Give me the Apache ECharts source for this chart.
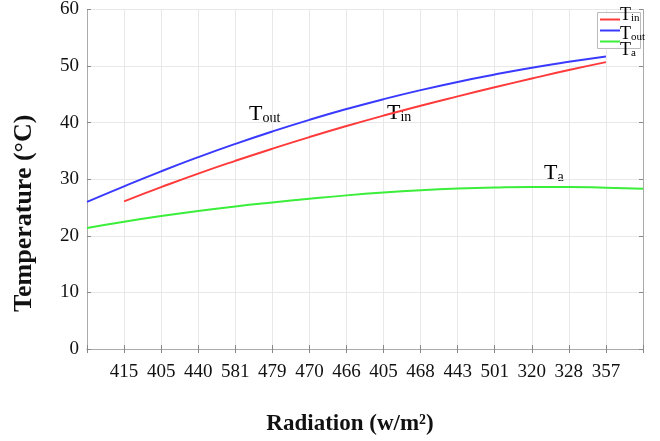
<!DOCTYPE html>
<html>
<head>
<meta charset="utf-8">
<script src="https://cdn.jsdelivr.net/npm/echarts@6/dist/echarts.min.js"></script>
<style>html,body{margin:0;padding:0;background:#fff}#c{width:660px;height:441px}</style>
</head>
<body>
<div id="c"></div>
<script>
const radiation = ['', '415','405','440','581','479','470','466','405','468','443','501','320','328','357',''];
const tIn  = [null, 26.1, 28.6, 31.0, 33.25, 35.4, 37.45, 39.4, 41.25, 43.0, 44.65, 46.25, 47.8, 49.3, 50.7, null];
const tOut = [26.0, 28.75, 31.4, 33.9, 36.25, 38.45, 40.5, 42.4, 44.15, 45.75, 47.2, 48.5, 49.7, 50.75, 51.7, null];
const tA   = [21.4, 22.5, 23.5, 24.4, 25.2, 25.9, 26.55, 27.15, 27.65, 28.05, 28.35, 28.55, 28.65, 28.65, 28.5, 28.3];
const seriesNames = ['Tin', 'Tout', 'Ta'];
const yTicks = {min: 0, max: 60, interval: 10};

const serif = '"Liberation Serif", "DejaVu Serif", serif';
const chart = echarts.init(document.getElementById('c'), null, {renderer: 'canvas'});
const subLeg = {
  t: {fontFamily: serif, fontSize: 18, color: '#111', verticalAlign: 'bottom'},
  s: {fontFamily: serif, fontSize: 11, color: '#111', verticalAlign: 'bottom', padding: [6, 0, 0, 0]}
};
const subBig = {
  t: {fontFamily: serif, fontSize: 22, color: '#111', verticalAlign: 'bottom'},
  s: {fontFamily: serif, fontSize: 14, color: '#111', verticalAlign: 'bottom', padding: [8, 0, 0, 0]}
};
const subText = n => '{t|T}{s|' + n.slice(1) + '}';
chart.setOption({
  animation: false,
  backgroundColor: '#fff',
  grid: {left: 87, right: 17, top: 6, bottom: 85},
  legend: {
    orient: 'vertical', left: 598, top: 14,
    itemWidth: 20, itemHeight: 2, itemGap: 0,
    padding: [0, 0, 0, 2],
    borderWidth: 0, backgroundColor: 'transparent',
    icon: 'rect', z: 5,
    formatter: () => ' ',
    textStyle: {fontSize: 11, lineHeight: 11, padding: 0},
    data: seriesNames
  },
  xAxis: [{
    type: 'category', data: radiation, boundaryGap: false,
    axisLine: {lineStyle: {color: '#aaa'}},
    axisTick: {inside: true, length: 4, lineStyle: {color: '#888'}},
    axisLabel: {fontFamily: serif, fontSize: 19, color: '#111', margin: 14, interval: 0},
    splitLine: {show: true, lineStyle: {color: '#e8e8e8'}},
    name: 'Radiation (w/m\u00B2)', nameLocation: 'middle', nameGap: 64,
    nameTextStyle: {fontFamily: serif, fontSize: 23, fontWeight: 'bold', color: '#111', padding: [0, 30, 0, 0]}
  }, {
    type: 'category', data: radiation, boundaryGap: false, position: 'top',
    axisLine: {lineStyle: {color: '#aaa'}},
    axisTick: {inside: true, length: 4, lineStyle: {color: '#888'}},
    axisLabel: {show: false}
  }],
  yAxis: [{
    type: 'value', min: yTicks.min, max: yTicks.max, interval: yTicks.interval,
    axisLine: {show: true, lineStyle: {color: '#aaa'}},
    axisTick: {show: true, inside: true, length: 4, lineStyle: {color: '#888'}},
    axisLabel: {fontFamily: serif, fontSize: 19, color: '#111', margin: 8},
    splitLine: {show: true, lineStyle: {color: '#e8e8e8'}},
    name: 'Temperature (\u00B0C)', nameLocation: 'middle', nameGap: 50, nameRotate: 90,
    nameTextStyle: {fontFamily: serif, fontSize: 26, fontWeight: 'bold', color: '#111', padding: [0, 68, 0, 0]}
  }, {
    type: 'value', min: yTicks.min, max: yTicks.max, interval: yTicks.interval, position: 'right',
    axisLine: {show: true, lineStyle: {color: '#aaa'}},
    axisTick: {show: true, inside: true, length: 4, lineStyle: {color: '#888'}},
    axisLabel: {show: false}, splitLine: {show: false}
  }],
  series: [
    {name: seriesNames[0], type: 'line', data: tIn, smooth: true, showSymbol: false,
     lineStyle: {color: '#ff3a3a', width: 2}, itemStyle: {color: '#ff3a3a'}},
    {name: seriesNames[1], type: 'line', data: tOut, smooth: true, showSymbol: false,
     lineStyle: {color: '#3a3aff', width: 2}, itemStyle: {color: '#3a3aff'}},
    {name: seriesNames[2], type: 'line', data: tA, smooth: true, showSymbol: false,
     lineStyle: {color: '#3aee3a', width: 2}, itemStyle: {color: '#3aee3a'}}
  ],
  graphic: [
    {type: 'rect', left: 597, top: 12, z: 3, shape: {width: 43, height: 36},
     style: {fill: '#fff', stroke: '#bbb', lineWidth: 1}},
    {type: 'text', left: 620, top: 6, z: 6, style: {text: subText(seriesNames[0]), rich: subLeg}},
    {type: 'text', left: 620, top: 25, z: 6, style: {text: subText(seriesNames[1]), rich: subLeg}},
    {type: 'text', left: 620, top: 41, z: 6, style: {text: subText(seriesNames[2]), rich: subLeg}},
    {type: 'text', left: 249, top: 103, style: {text: subText(seriesNames[1]), rich: subBig}},
    {type: 'text', left: 387, top: 102, style: {text: subText(seriesNames[0]), rich: subBig}},
    {type: 'text', left: 544, top: 162, style: {text: subText(seriesNames[2]), rich: subBig}}
  ]
});
</script>
</body>
</html>
